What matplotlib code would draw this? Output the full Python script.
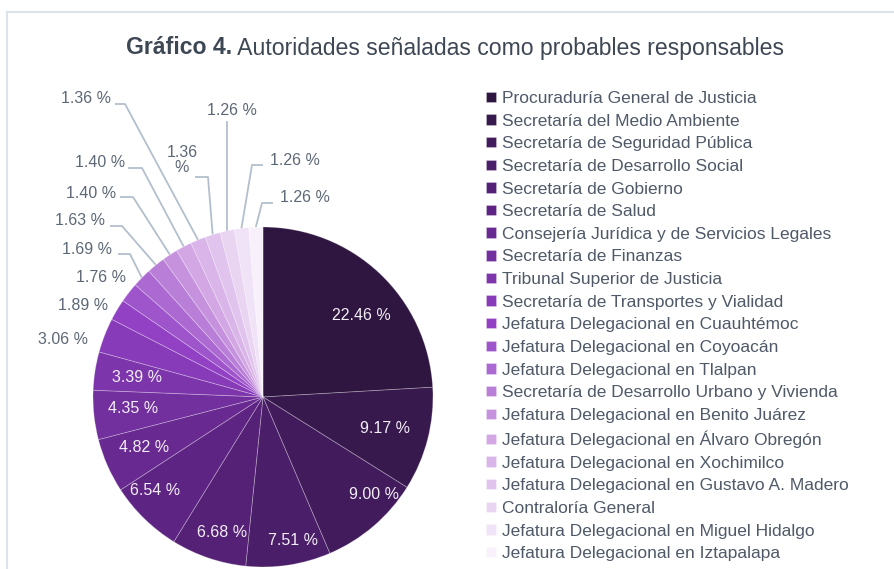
import matplotlib
matplotlib.use("Agg")
import matplotlib.pyplot as plt
import numpy as np
from matplotlib.colors import LinearSegmentedColormap
from matplotlib.lines import Line2D

# ---------------- data ----------------
authorities = [
    "Procuraduría General de Justicia",
    "Secretaría del Medio Ambiente",
    "Secretaría de Seguridad Pública",
    "Secretaría de Desarrollo Social",
    "Secretaría de Gobierno",
    "Secretaría de Salud",
    "Consejería Jurídica y de Servicios Legales",
    "Secretaría de Finanzas",
    "Tribunal Superior de Justicia",
    "Secretaría de Transportes y Vialidad",
    "Jefatura Delegacional en Cuauhtémoc",
    "Jefatura Delegacional en Coyoacán",
    "Jefatura Delegacional en Tlalpan",
    "Secretaría de Desarrollo Urbano y Vivienda",
    "Jefatura Delegacional en Benito Juárez",
    "Jefatura Delegacional en Álvaro Obregón",
    "Jefatura Delegacional en Xochimilco",
    "Jefatura Delegacional en Gustavo A. Madero",
    "Contraloría General",
    "Jefatura Delegacional en Miguel Hidalgo",
    "Jefatura Delegacional en Iztapalapa",
]
percentages = [22.46, 9.17, 9.00, 7.51, 6.68, 6.54, 4.82, 4.35, 3.39, 3.06,
               1.89, 1.76, 1.69, 1.63, 1.40, 1.40, 1.36, 1.36, 1.26, 1.26, 1.26]
title_bold = "Gráfico 4."
title_rest = " Autoridades señaladas como probables responsables"

# ---------------- style ----------------
W, H = 894, 569
FONT = ["Liberation Sans", "DejaVu Sans"]
plt.rcParams["font.family"] = FONT

fig = plt.figure(figsize=(W / 100, H / 100), dpi=100)
ax = fig.add_axes([0, 0, 1, 1])

cmap = LinearSegmentedColormap.from_list("purp", ["#2f1640", "#5e2484", "#9140c5", "#d2a6e4", "#f8f1fb"],)
colors = cmap(np.linspace(0, 1, len(percentages)))

center = (263, H - 397)
R = 170
wedges, _ = ax.pie(percentages, colors=colors, startangle=90, counterclock=False,
                   center=center, radius=R,
                   wedgeprops=dict(linewidth=0.6, edgecolor=(1, 1, 1, 0.3)))
ax.set_xlim(0, W)
ax.set_ylim(0, H)
ax.set_aspect("equal")
ax.axis("off")

def fmt(v):
    return f"{v:.2f} %"

# inside labels (first 9 slices): radial fraction and angle tweak
inner_r = [0.75, 0.74, 0.87, 0.86, 0.83, 0.84, 0.76, 0.77, 0.75]
inner_dang = [-7, 0, 8, 3, 2, -5, -1, -1, 0]
label_fs = 11.5
for i, (rf, da) in enumerate(zip(inner_r, inner_dang)):
    w = wedges[i]
    ang = np.deg2rad((w.theta1 + w.theta2) / 2 + da)
    x = center[0] + rf * R * np.cos(ang)
    y = center[1] + rf * R * np.sin(ang)
    ax.text(x, y, fmt(percentages[i]), color="#f2eef5", fontsize=label_fs,
            ha="center", va="center")

# outside labels: text position (px from top-left) and leader (line_y, x_start, x_elbow)
outer_text = {9: (63, 340), 10: (83, 305), 11: (101, 277), 12: (87, 249),
              13: (80, 220), 14: (91, 193), 15: (100, 162), 16: (86, 98),
              17: (182, 160), 18: (232, 110), 19: (295, 160), 20: (305, 197)}
leaders = {12: (254, 118, 130), 13: (226, 110, 122), 14: (197, 120, 133),
           15: (168, 128, 142), 16: (104, 115, 125), 17: (177, 195, 208),
           18: (121, None, None), 19: (165, 263, 252), 20: (203, 273, 262)}
lead_col = "#b3bfcd"
txt_col = "#5d6877"
for i, (tx, ty) in outer_text.items():
    s = fmt(percentages[i])
    if i == 17:
        s = f"{percentages[i]:.2f}\n%"
    ax.text(tx, H - ty, s, color=txt_col, fontsize=label_fs, ha="center",
            va="center", linespacing=1.05)
    if i in leaders:
        w = wedges[i]
        ang = np.deg2rad((w.theta1 + w.theta2) / 2)
        ex = center[0] + R * np.cos(ang)
        ey = center[1] + R * np.sin(ang)
        ly, xs, xe = leaders[i]
        if xs is None:
            xs_, ys_ = [ex, ex], [H - ly, ey]
        else:
            xs_, ys_ = [xs, xe, ex], [H - ly, H - ly, ey]
        ax.add_line(Line2D(xs_, ys_, color=lead_col, lw=1.3, zorder=0.5,
                           solid_capstyle="butt"))

# legend
leg = ax.legend(wedges, authorities, loc="upper left",
                bbox_to_anchor=(486 / W, 1 - 91 / H), bbox_transform=fig.transFigure,
                frameon=False, fontsize=12.5, handlelength=0.55, handleheight=0.55,
                handletextpad=0.35, labelspacing=0.44, borderpad=0, borderaxespad=0,
                labelcolor="#4f5968")

# container frame
fig.add_artist(Line2D([7 / W, 1], [1 - 12 / H, 1 - 12 / H], transform=fig.transFigure,
                      color="#dde3ea", lw=1.5))
fig.add_artist(Line2D([7 / W, 7 / W], [0, 1 - 12 / H], transform=fig.transFigure,
                      color="#dde3ea", lw=1.5))

# title (bold part + regular part)
tcol = "#3e4855"
tsize = 16.6
t1 = fig.text(0, 1 - 48 / H, title_bold, fontsize=tsize, fontweight="bold",
              color=tcol, va="center", ha="left")
t2 = fig.text(0, 1 - 48 / H, title_rest, fontsize=tsize, color=tcol,
              va="center", ha="left")
r = fig.canvas.get_renderer()
w1 = t1.get_window_extent(r).width
w2 = t2.get_window_extent(r).width
x0 = 455 - (w1 + w2) / 2
t1.set_x(x0 / W)
t2.set_x((x0 + w1) / W)

fig.savefig("out.png", dpi=100, facecolor="white")
